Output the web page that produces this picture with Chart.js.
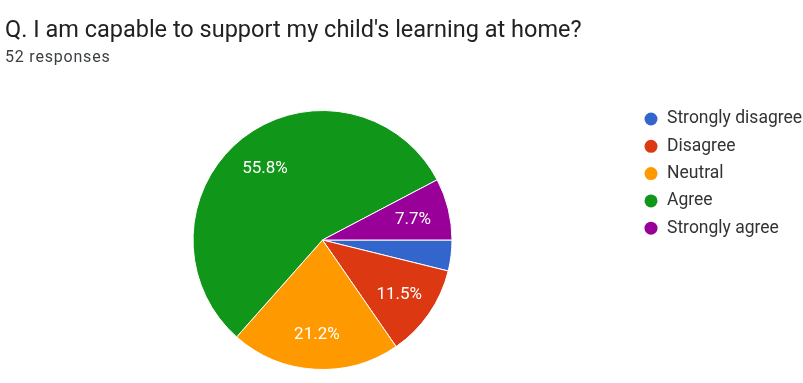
<!DOCTYPE html>
<html>
<head>
<meta charset="utf-8">
<script src="https://cdn.jsdelivr.net/npm/chart.js@4.4.1/dist/chart.umd.min.js"></script>
<style>
  html, body { margin: 0; padding: 0; background: #fff; }
  #wrap { position: relative; width: 803px; height: 383px; overflow: hidden; }
  #grafico { position: absolute; left: 0; top: 0; }
  .titulo { position: absolute; left: 5px; top: 15px; font: 23.5px Roboto, Arial, sans-serif; color: #202124; white-space: nowrap; }
  .subtitulo { position: absolute; left: 5px; top: 47px; font: 16px Roboto, Arial, sans-serif; letter-spacing: 0.8px; color: #3c4043; }
</style>
</head>
<body>
<div id="wrap">
  <canvas id="grafico" width="803" height="383"></canvas>
  <div class="titulo">Q. I am capable to support my child's learning at home?</div>
  <div class="subtitulo">52 responses</div>
</div>
<script>
const categorias = ['Strongly disagree', 'Disagree', 'Neutral', 'Agree', 'Strongly agree'];
const respuestas = [2, 6, 11, 29, 4];
const colores = ['#3366cc', '#dc3912', '#ff9900', '#109618', '#990099'];

const total = respuestas.reduce((a, b) => a + b, 0);

// porcentajes dentro de cada porción (se omiten las muy chicas)
const etiquetasPorcion = {
  id: 'etiquetasPorcion',
  afterDatasetsDraw(chart) {
    const ctx = chart.ctx;
    const meta = chart.getDatasetMeta(0);
    ctx.save();
    ctx.font = '17px Roboto, Arial, sans-serif';
    ctx.fillStyle = '#ffffff';
    ctx.textAlign = 'center';
    ctx.textBaseline = 'middle';
    meta.data.forEach((arc, i) => {
      const pct = respuestas[i] / total * 100;
      if (pct < 5) return;
      const { x, y, startAngle, endAngle, outerRadius } = arc.getProps(['x', 'y', 'startAngle', 'endAngle', 'outerRadius'], true);
      const medio = (startAngle + endAngle) / 2;
      const r = outerRadius * 0.72;
      ctx.fillText(pct.toFixed(1) + '%', x + Math.cos(medio) * r, y + Math.sin(medio) * r + 2);
    });
    ctx.restore();
  }
};

// leyenda a la derecha con círculos
const leyendaDerecha = {
  id: 'leyendaDerecha',
  afterDraw(chart) {
    const ctx = chart.ctx;
    ctx.save();
    ctx.font = '17.5px Roboto, Arial, sans-serif';
    ctx.textBaseline = 'middle';
    ctx.textAlign = 'left';
    chart.data.labels.forEach((label, i) => {
      const y = 119 + i * 27.3;
      ctx.beginPath();
      ctx.arc(651, y, 6.5, 0, Math.PI * 2);
      ctx.fillStyle = colores[i];
      ctx.fill();
      ctx.fillStyle = '#333333';
      ctx.fillText(label, 667, y);
    });
    ctx.restore();
  }
};

new Chart(document.getElementById('grafico').getContext('2d'), {
  type: 'pie',
  data: {
    labels: categorias,
    datasets: [{
      data: respuestas,
      backgroundColor: colores,
      borderColor: '#ffffff',
      borderWidth: 1
    }]
  },
  options: {
    responsive: false,
    animation: false,
    rotation: 90,
    layout: { padding: { left: 192, right: 350, top: 110, bottom: 13 } },
    plugins: {
      legend: { display: false },
      tooltip: { enabled: false }
    }
  },
  plugins: [etiquetasPorcion, leyendaDerecha]
});
</script>
</body>
</html>
